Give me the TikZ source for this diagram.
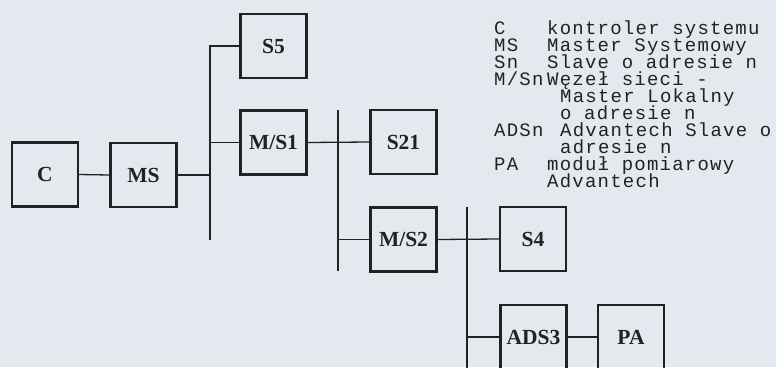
\documentclass[tikz,border=0pt]{standalone}
\usepackage{fontspec}
\setmainfont{Liberation Serif}
\newfontfamily\legfont[LetterSpace=6.5]{Liberation Mono}
\definecolor{bg}{HTML}{E4E9EF}
\definecolor{ink}{HTML}{222222}
\begin{document}
\begin{tikzpicture}[x=1pt,y=-1pt,
  box/.style={draw=ink,line width=2.3pt,minimum width=66pt,minimum height=64pt,inner sep=0pt,
    text=ink,font=\bfseries\fontsize{21.5}{21.5}\selectfont},
  wire/.style={draw=ink,line width=1.3pt},
  leg/.style={inner sep=0pt,anchor=base west,text=ink,font=\legfont\fontsize{19}{19}\selectfont}]
\fill[bg] (0,0) rectangle (776,367);
\useasboundingbox (0,0) rectangle (776,367);
\clip (0,0) rectangle (776,367);
% boxes
\node[box] (C) at (45,174.5) {C};
\node[box] (MS) at (143.5,175) {MS};
\node[box] (S5) at (273.5,46) {S5};
\node[box] (MS1) at (273.5,142.5) {M/S1};
\node[box] (S21) at (403.5,142) {S21};
\node[box] (MS2) at (403.5,239.5) {M/S2};
\node[box] (S4) at (533,239) {S4};
\node[box] (ADS3) at (533.5,337) {ADS3};
\node[box] (PA) at (631,337) {PA};
% bus coordinates
\coordinate (b1t) at (210,46);
\coordinate (b1b) at (210,240);
\coordinate (b2t) at (338,110);
\coordinate (b2b) at (338,271);
\coordinate (b3t) at (467,207);
\coordinate (b3b) at (467,372);
% connectors
\draw[wire] (C.east) -- (MS.west);
\draw[wire] (MS.east) -- (MS.east -| b1t);
\draw[wire] (S5.west) -- (b1t) -- (b1b);
\draw[wire] (MS1.west) -- (MS1.west -| b1t);
\draw[wire] (b2t) -- (b2b);
\draw[wire] (MS1.east) -- (S21.west);
\draw[wire] (MS2.west) -- (MS2.west -| b2t);
\draw[wire] (b3t) -- (b3b);
\draw[wire] (MS2.east) -- (S4.west);
\draw[wire] (ADS3.west) -- (ADS3.west -| b3t);
\draw[wire] (ADS3.east) -- (PA.west);
% legend
\node[leg] (k1) at (494,34) {C};
\node[leg] (d1) at (547,34) {kontroler systemu};
\node[leg] (k2) at (494,51) {MS};
\node[leg] (d2) at (547,51) {Master Systemowy};
\node[leg] (k3) at (494,68) {Sn};
\node[leg] (d3) at (547,68) {Slave o adresie n};
\node[leg] (k4) at (494,85) {M/Sn};
\node[leg] (d4) at (547,85) {Węzeł sieci -};
\node[leg] (d4b) at (560,102) {Master Lokalny};
\node[leg] (d4c) at (560,119) {o adresie n};
\node[leg] (k5) at (494,136) {ADSn};
\node[leg] (d5) at (560,136) {Advantech Slave o};
\node[leg] (d5b) at (560,153) {adresie n};
\node[leg] (k6) at (494,170) {PA};
\node[leg] (d6) at (547,170) {moduł pomiarowy};
\node[leg] (d6b) at (547,187) {Advantech};
\end{tikzpicture}
\end{document}
